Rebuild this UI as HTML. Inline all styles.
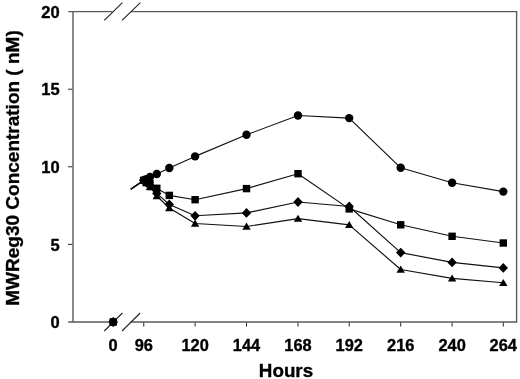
<!DOCTYPE html>
<html><head><meta charset="utf-8"><title>MWReg30 Concentration</title>
<style>html,body{margin:0;padding:0;background:#fff}svg{display:block}text{font-family:"Liberation Sans",Arial,sans-serif;font-weight:bold;fill:#000;stroke:#000;stroke-width:0.35px;stroke-linejoin:round}</style></head><body>
<svg width="520" height="379" viewBox="0 0 520 379">
<rect width="520" height="379" fill="#fff"/>
<path d="M68.2 11.6H112.5M131 11.6H516.6V322.0H131M112.5 322.0H68.2M73.0 10.9V322.3" stroke="#5a5a5a" stroke-width="1.4" fill="none"/>
<path d="M68 244.4H72.3M68 166.8H72.3M68 89.2H72.3M143.75 322.5V326.6M195.1 322.5V326.6M246.5 322.5V326.6M298.0 322.5V326.6M349.2 322.5V326.6M400.7 322.5V326.6M452.1 322.5V326.6M503.3 322.5V326.6" stroke="#2a2a2a" stroke-width="1" fill="none"/>
<path d="M104.3 20.4L122.4 2.6M122 20.4L140.4 2.6M104.3 331L122.4 313M122 331L140.2 313" stroke="#222" stroke-width="1.1" fill="none"/>
<path d="M130.8 189.3L143.8 180.3L146.3 179.3L150.0 176.9L156.8 174.0L169.3 168.0L195.1 156.4L246.5 134.8L298.0 115.5L349.2 118.1L400.7 167.8L452.1 182.7L503.3 191.6" stroke="#111" stroke-width="1.15" fill="none" stroke-linejoin="round"/>
<path d="M130.8 189.3L143.8 180.3L146.3 181.5L150.0 183.5L156.8 188.3L169.3 195.4L195.1 199.7L246.5 188.6L298.0 173.7L349.2 208.9L400.7 224.8L452.1 236.3L503.3 243.0" stroke="#111" stroke-width="1.15" fill="none" stroke-linejoin="round"/>
<path d="M130.8 189.3L143.8 180.3L146.3 182.5L150.0 185.5L156.8 193.4L169.3 204.5L195.1 215.8L246.5 212.9L298.0 202.0L349.2 206.5L400.7 252.6L452.1 262.4L503.3 267.9" stroke="#111" stroke-width="1.15" fill="none" stroke-linejoin="round"/>
<path d="M130.8 189.3L143.8 180.3L146.3 183.0L150.0 187.0L156.8 196.0L169.3 208.0L195.1 223.5L246.5 226.5L298.0 218.6L349.2 224.9L400.7 269.5L452.1 278.4L503.3 282.8" stroke="#111" stroke-width="1.15" fill="none" stroke-linejoin="round"/>
<g fill="#000"><circle cx="143.8" cy="180.3" r="4.2"/><circle cx="146.3" cy="179.3" r="4.2"/><circle cx="150.0" cy="176.9" r="4.2"/><circle cx="156.8" cy="174.0" r="4.2"/><circle cx="169.3" cy="168.0" r="4.2"/><circle cx="195.1" cy="156.4" r="4.2"/><circle cx="246.5" cy="134.8" r="4.2"/><circle cx="298.0" cy="115.5" r="4.2"/><circle cx="349.2" cy="118.1" r="4.2"/><circle cx="400.7" cy="167.8" r="4.2"/><circle cx="452.1" cy="182.7" r="4.2"/><circle cx="503.3" cy="191.6" r="4.2"/><circle cx="113.2" cy="322.0" r="4.2"/><rect x="140.1" y="176.6" width="7.4" height="7.4"/><rect x="142.6" y="177.8" width="7.4" height="7.4"/><rect x="146.3" y="179.8" width="7.4" height="7.4"/><rect x="153.1" y="184.6" width="7.4" height="7.4"/><rect x="165.6" y="191.7" width="7.4" height="7.4"/><rect x="191.4" y="196.0" width="7.4" height="7.4"/><rect x="242.8" y="184.9" width="7.4" height="7.4"/><rect x="294.3" y="170.0" width="7.4" height="7.4"/><rect x="345.5" y="205.2" width="7.4" height="7.4"/><rect x="397.0" y="221.1" width="7.4" height="7.4"/><rect x="448.4" y="232.6" width="7.4" height="7.4"/><rect x="499.6" y="239.3" width="7.4" height="7.4"/><rect x="109.5" y="318.3" width="7.4" height="7.4"/><path d="M143.8 175.4l4.7 4.9l-4.7 4.9l-4.7 -4.9z"/><path d="M146.3 177.6l4.7 4.9l-4.7 4.9l-4.7 -4.9z"/><path d="M150.0 180.6l4.7 4.9l-4.7 4.9l-4.7 -4.9z"/><path d="M156.8 188.5l4.7 4.9l-4.7 4.9l-4.7 -4.9z"/><path d="M169.3 199.6l4.7 4.9l-4.7 4.9l-4.7 -4.9z"/><path d="M195.1 210.9l4.7 4.9l-4.7 4.9l-4.7 -4.9z"/><path d="M246.5 208.0l4.7 4.9l-4.7 4.9l-4.7 -4.9z"/><path d="M298.0 197.1l4.7 4.9l-4.7 4.9l-4.7 -4.9z"/><path d="M349.2 201.6l4.7 4.9l-4.7 4.9l-4.7 -4.9z"/><path d="M400.7 247.7l4.7 4.9l-4.7 4.9l-4.7 -4.9z"/><path d="M452.1 257.5l4.7 4.9l-4.7 4.9l-4.7 -4.9z"/><path d="M503.3 263.0l4.7 4.9l-4.7 4.9l-4.7 -4.9z"/><path d="M113.2 317.1l4.7 4.9l-4.7 4.9l-4.7 -4.9z"/><path d="M143.8 176.4l4.2 7.1h-8.4z"/><path d="M146.3 179.1l4.2 7.1h-8.4z"/><path d="M150.0 183.1l4.2 7.1h-8.4z"/><path d="M156.8 192.1l4.2 7.1h-8.4z"/><path d="M169.3 204.1l4.2 7.1h-8.4z"/><path d="M195.1 219.6l4.2 7.1h-8.4z"/><path d="M246.5 222.6l4.2 7.1h-8.4z"/><path d="M298.0 214.7l4.2 7.1h-8.4z"/><path d="M349.2 221.0l4.2 7.1h-8.4z"/><path d="M400.7 265.6l4.2 7.1h-8.4z"/><path d="M452.1 274.5l4.2 7.1h-8.4z"/><path d="M503.3 278.9l4.2 7.1h-8.4z"/></g>
<text x="59.6" y="328.2" font-size="16.5" text-anchor="end">0</text>
<text x="59.6" y="250.7" font-size="16.5" text-anchor="end">5</text>
<text x="59.6" y="173.1" font-size="16.5" text-anchor="end">10</text>
<text x="59.6" y="95.4" font-size="16.5" text-anchor="end">15</text>
<text x="59.6" y="17.9" font-size="16.5" text-anchor="end">20</text>
<text x="113" y="351.1" font-size="16.4" text-anchor="middle">0</text>
<text x="143.75" y="351.1" font-size="16.4" text-anchor="middle">96</text>
<text x="195.1" y="351.1" font-size="16.4" text-anchor="middle">120</text>
<text x="246.5" y="351.1" font-size="16.4" text-anchor="middle">144</text>
<text x="298.0" y="351.1" font-size="16.4" text-anchor="middle">168</text>
<text x="349.2" y="351.1" font-size="16.4" text-anchor="middle">192</text>
<text x="400.7" y="351.1" font-size="16.4" text-anchor="middle">216</text>
<text x="452.1" y="351.1" font-size="16.4" text-anchor="middle">240</text>
<text x="503.3" y="351.1" font-size="16.4" text-anchor="middle">264</text>
<text x="286" y="377.2" font-size="18.8" text-anchor="middle">Hours</text>
<text transform="translate(19 168) rotate(-90)" font-size="19" text-anchor="middle">MWReg30 Concentration ( nM)</text>
</svg></body></html>
